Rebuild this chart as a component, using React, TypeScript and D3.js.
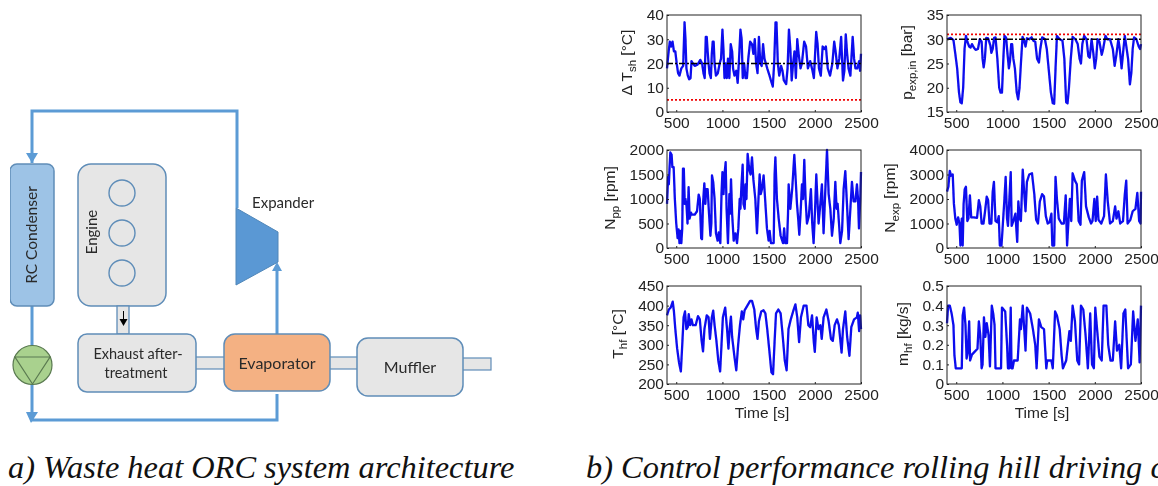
import React, { useEffect, useRef } from "react";
import * as d3 from "d3";

const xTicks = [500, 1000, 1500, 2000, 2500];
const tshTicks = [0, 10, 20, 30, 40];
const pTicks = [15, 20, 25, 30, 35];
const nppTicks = [0, 500, 1000, 1500, 2000];
const nexpTicks = [0, 1000, 2000, 3000, 4000];
const thfTicks = [200, 250, 300, 350, 400, 450];
const mhfTicks = [0, 0.1, 0.2, 0.3, 0.4, 0.5];

const tsh = [[400,18],[415,24],[430,29],[445,27],[460,29],[475,25],[490,25],[505,20],[520,16],[535,15],[555,18],[575,19],[590,37],[600,30],[610,18],[625,15],[640,13.5],[655,14],[665,21],[680,20],[700,19],[730,19.5],[760,21.5],[780,20],[795,16],[808,14],[820,31],[830,31],[840,25],[850,20],[860,16],[875,14],[885,24],[895,29],[905,29],[915,20],[930,15],[950,16],[970,20],[985,22],[1000,34],[1012,25],[1022,14],[1035,20],[1048,14],[1060,22],[1075,14],[1090,28],[1105,25],[1115,18],[1130,15],[1150,17],[1165,12],[1180,22],[1195,34],[1208,30],[1220,14],[1235,20],[1250,14],[1265,14],[1280,22],[1300,29],[1320,28],[1335,24],[1350,30],[1365,20],[1380,16],[1395,31],[1410,20],[1425,19],[1440,28],[1455,22],[1470,20],[1485,18],[1510,15],[1525,13],[1545,10.5],[1560,20],[1575,37],[1585,37],[1600,20],[1615,15],[1635,19],[1650,17],[1665,13],[1690,11.5],[1705,18],[1720,34],[1735,26],[1750,13],[1765,20],[1780,25],[1795,14],[1810,30],[1825,24],[1845,18],[1860,20],[1885,29],[1905,27],[1925,18],[1950,21],[1975,17],[1990,14],[2015,33],[2030,28],[2045,18],[2065,15],[2085,27],[2105,26],[2120,27],[2140,18],[2165,15],[2190,20],[2210,29],[2225,25],[2245,18],[2265,22],[2285,31],[2305,13],[2320,17],[2335,32],[2350,24],[2365,18],[2385,15],[2410,31],[2425,22],[2440,18],[2460,18],[2480,21],[2490,17],[2500,24]];
const pExp = [[400,30],[440,30.3],[470,29.8],[490,27],[510,24],[530,19],[545,17],[560,16.8],[575,20],[590,28],[605,30.7],[620,29.5],[640,28.5],[655,28.3],[670,29],[690,28.3],[710,27.8],[735,28],[755,30],[775,29.5],[785,26],[797,24.2],[810,26],[825,30.3],[845,30.2],[870,28.7],[880,27.2],[895,28],[910,30.3],[925,30.4],[945,26],[965,20],[980,19],[995,19],[1010,26],[1022,30.7],[1040,30.3],[1055,27],[1070,24],[1082,25.5],[1095,29],[1105,29],[1118,26],[1135,24],[1155,19],[1170,17.6],[1185,20],[1200,25],[1218,30.5],[1235,29.7],[1250,28.5],[1265,30.2],[1290,30],[1315,30.4],[1335,29.7],[1355,29.5],[1375,26],[1395,25.2],[1410,28],[1430,30.4],[1460,30],[1480,28],[1500,24],[1525,19],[1545,16.8],[1560,16.7],[1575,24],[1590,30.7],[1620,30],[1650,29.7],[1670,26],[1690,17],[1705,16.8],[1720,20],[1740,26],[1760,30.5],[1790,30],[1815,29],[1835,26],[1850,25],[1865,29],[1885,30.7],[1910,30],[1930,26.5],[1945,26.2],[1955,28],[1965,30],[1985,27],[2000,24],[2015,26],[2030,30],[2050,29.5],[2075,26.8],[2090,28],[2115,30.7],[2135,30],[2165,30],[2195,28],[2215,24.5],[2235,27],[2255,30],[2270,28],[2290,24],[2310,28],[2325,30.7],[2345,28],[2360,26],[2380,20.7],[2395,23],[2410,28],[2425,30.4],[2450,30],[2475,28.5],[2490,28],[2500,29]];
const npp = [[400,900],[412,1450],[420,1300],[428,1650],[436,1950],[450,1900],[458,1650],[472,1650],[485,1000],[500,500],[515,200],[525,380],[535,100],[544,350],[555,100],[565,400],[573,1620],[582,1620],[592,900],[600,1000],[612,850],[622,500],[634,1240],[645,600],[660,720],[670,680],[700,680],[725,750],[743,1090],[755,1000],[770,200],[779,180],[790,900],[804,1320],[815,900],[825,1200],[840,1200],[855,700],[870,250],[880,500],[887,1480],[900,1350],[915,1000],[930,300],[948,150],[960,320],[977,100],[990,1100],[1000,1550],[1012,1100],[1022,1500],[1035,1750],[1045,800],[1060,100],[1075,1100],[1083,700],[1093,1400],[1105,700],[1122,150],[1140,300],[1158,100],[1172,400],[1187,1000],[1195,800],[1205,1250],[1219,1700],[1228,900],[1241,800],[1250,1300],[1260,1000],[1273,1920],[1290,1600],[1305,1500],[1320,1850],[1335,1400],[1356,1000],[1374,300],[1390,1000],[1403,1500],[1415,1100],[1428,1200],[1446,1480],[1462,1000],[1482,400],[1500,150],[1511,350],[1525,100],[1555,100],[1565,1500],[1573,1850],[1590,1000],[1609,600],[1630,250],[1656,100],[1668,400],[1680,100],[1699,100],[1710,700],[1717,1300],[1735,800],[1755,1200],[1765,1500],[1778,1900],[1790,1500],[1807,900],[1820,600],[1832,270],[1848,800],[1861,1300],[1872,1000],[1886,1800],[1900,1000],[1915,500],[1935,650],[1958,1200],[1972,500],[1987,100],[2003,800],[2016,1500],[2028,1000],[2041,500],[2060,900],[2077,1300],[2095,300],[2112,1100],[2132,2000],[2150,1100],[2168,800],[2186,250],[2205,600],[2222,1350],[2236,800],[2247,900],[2262,500],[2276,100],[2295,350],[2312,1200],[2330,1570],[2348,900],[2366,180],[2385,800],[2402,1350],[2420,950],[2440,950],[2456,1300],[2468,1000],[2478,400],[2492,1000],[2500,1550]];
const nexp = [[400,2300],[415,2500],[430,3150],[445,2950],[462,3000],[475,1800],[490,1200],[505,950],[520,1250],[535,1000],[545,100],[560,1200],[570,100],[580,1800],[592,2400],[605,2500],[620,1100],[632,1200],[648,2150],[662,1250],[690,1250],[725,1230],[745,1950],[760,1700],[775,1000],[795,1000],[812,1500],[830,2100],[845,1950],[860,1000],[880,1000],[895,2300],[908,2700],[925,1100],[945,1050],[960,1300],[972,100],[990,100],[1005,1000],[1020,1900],[1035,2900],[1050,1200],[1060,900],[1075,2000],[1090,3100],[1100,900],[1118,1100],[1140,1400],[1160,250],[1172,1900],[1188,1200],[1200,1100],[1220,3200],[1235,2300],[1250,1500],[1265,2700],[1290,3000],[1320,3050],[1345,2200],[1365,1150],[1385,1000],[1405,1900],[1430,2200],[1450,2100],[1470,1300],[1490,1000],[1510,1050],[1530,1400],[1540,100],[1560,100],[1575,2900],[1590,2000],[1610,1200],[1640,1000],[1665,1000],[1685,2150],[1700,100],[1715,1100],[1730,2000],[1745,1100],[1760,3050],[1785,2750],[1805,2600],[1825,1100],[1845,950],[1860,2750],[1885,3100],[1905,1700],[1935,1250],[1960,1000],[1975,1100],[1995,2000],[2010,1100],[2025,2100],[2040,1150],[2070,1000],[2100,1300],[2120,3000],[2140,1900],[2165,1000],[2195,1100],[2220,1700],[2235,1200],[2255,1500],[2275,1000],[2305,1100],[2325,2200],[2340,2750],[2355,1000],[2385,1150],[2410,1500],[2440,1600],[2460,2250],[2480,1100],[2495,1000],[2500,2300]];
const thf = [[400,375],[420,390],[440,395],[462,410],[475,385],[490,340],[510,290],[530,255],[550,232],[565,300],[580,370],[595,385],[610,340],[625,345],[635,378],[650,350],[665,365],[680,350],[710,350],[735,373],[755,365],[775,310],[790,283],[805,340],[830,375],[850,370],[865,315],[885,370],[900,387],[915,350],[935,310],[955,260],[975,232],[990,300],[1005,370],[1030,395],[1050,340],[1065,290],[1080,345],[1092,372],[1105,320],[1130,270],[1150,235],[1170,300],[1190,350],[1210,385],[1225,365],[1240,388],[1270,400],[1300,412],[1320,412],[1345,390],[1365,340],[1380,315],[1395,360],[1420,385],[1445,388],[1465,380],[1485,340],[1510,280],[1530,230],[1548,225],[1565,310],[1580,380],[1605,390],[1630,380],[1650,330],[1675,260],[1695,235],[1715,340],[1740,365],[1765,385],[1790,403],[1810,370],[1830,307],[1850,370],[1880,400],[1910,400],[1930,350],[1950,345],[1970,375],[1990,305],[2000,282],[2020,370],[2040,340],[2060,350],[2075,315],[2095,370],[2125,390],[2150,360],[2175,315],[2195,310],[2215,350],[2240,365],[2260,350],[2290,280],[2305,340],[2330,385],[2350,320],[2375,272],[2395,345],[2425,365],[2455,370],[2465,382],[2480,335],[2490,375],[2500,340]];
const mhf = [[400,0.31],[412,0.4],[430,0.4],[450,0.36],[470,0.3],[480,0.15],[495,0.08],[560,0.08],[570,0.35],[585,0.39],[600,0.3],[612,0.13],[625,0.16],[640,0.32],[650,0.12],[670,0.15],[690,0.16],[730,0.18],[745,0.32],[760,0.25],[775,0.08],[785,0.1],[800,0.34],[815,0.24],[830,0.31],[850,0.25],[865,0.09],[885,0.4],[900,0.36],[915,0.3],[925,0.08],[985,0.08],[995,0.39],[1030,0.37],[1050,0.2],[1060,0.08],[1075,0.08],[1090,0.39],[1098,0.08],[1110,0.08],[1125,0.12],[1165,0.12],[1190,0.33],[1200,0.28],[1220,0.4],[1240,0.25],[1250,0.17],[1265,0.39],[1300,0.36],[1330,0.28],[1355,0.2],[1370,0.08],[1395,0.33],[1420,0.29],[1450,0.28],[1475,0.08],[1485,0.12],[1530,0.12],[1545,0.08],[1570,0.37],[1590,0.35],[1620,0.28],[1640,0.15],[1655,0.08],[1690,0.12],[1725,0.27],[1740,0.22],[1760,0.4],[1785,0.32],[1810,0.12],[1830,0.1],[1850,0.4],[1875,0.38],[1900,0.25],[1925,0.08],[1950,0.36],[1970,0.1],[1990,0.08],[2005,0.39],[2030,0.25],[2050,0.14],[2075,0.12],[2095,0.4],[2125,0.4],[2145,0.2],[2170,0.12],[2195,0.12],[2220,0.32],[2240,0.17],[2265,0.2],[2285,0.08],[2310,0.36],[2330,0.38],[2360,0.08],[2390,0.1],[2415,0.37],[2440,0.22],[2465,0.33],[2485,0.11],[2500,0.4]];

const tshLimit = 5, tshRef = 20, pLimit = 31, pRef = 30;

const SANS = "'Liberation Sans', Arial, sans-serif";
const DIA = "Lato, 'Noto Sans', sans-serif";
const BOX = "#5f8db8";
const FLOW = "#5b9bd5";

type PanelSpec = { left: number; top: number; w: number; h: number; dom: [number, number]; ticks: number[]; data: number[][]; refV?: number; limV?: number; time?: boolean; lx: number; main: string; sub: string; tail: string };

const W = 194;
const panels: PanelSpec[] = [
  { left: 667, top: 15, w: W, h: 97, dom: [0, 40], ticks: tshTicks, data: tsh, refV: tshRef, limV: tshLimit, lx: 632, main: "Δ T", sub: "sh", tail: " [°C]" },
  { left: 947, top: 15, w: W, h: 97, dom: [15, 35], ticks: pTicks, data: pExp, refV: pRef, limV: pLimit, lx: 912, main: "p", sub: "exp,in", tail: " [bar]" },
  { left: 667, top: 150, w: W, h: 98, dom: [0, 2000], ticks: nppTicks, data: npp, lx: 615, main: "N", sub: "pp", tail: " [rpm]" },
  { left: 947, top: 150, w: W, h: 98, dom: [0, 4000], ticks: nexpTicks, data: nexp, lx: 895, main: "N", sub: "exp", tail: " [rpm]" },
  { left: 667, top: 286, w: W, h: 98, dom: [200, 450], ticks: thfTicks, data: thf, time: true, lx: 623, main: "T", sub: "hf", tail: " [°C]" },
  { left: 947, top: 286, w: W, h: 98, dom: [0, 0.5], ticks: mhfTicks, data: mhf, time: true, lx: 908, main: "m", sub: "hf", tail: " [kg/s]" },
];

function Panel({ p }: { p: PanelSpec }) {
  const xRef = useRef<SVGGElement>(null);
  const yRef = useRef<SVGGElement>(null);
  const x = d3.scaleLinear().domain([400, 2500]).range([0, p.w]);
  const y = d3.scaleLinear().domain(p.dom).range([p.h, 0]);
  const line = d3.line<number[]>().x((d) => x(d[0])).y((d) => y(d[1]));
  useEffect(() => {
    const style = (g: any) => {
      g.select(".domain").remove();
      g.selectAll("line").attr("stroke", "#222").attr("stroke-width", 1);
      g.selectAll("text").attr("font-family", SANS).attr("font-size", 15.5).attr("fill", "#222");
    };
    d3.select(xRef.current!).call(d3.axisBottom(x).tickValues(xTicks).tickFormat((d: any) => String(d)).tickSize(-2).tickPadding(5) as any).call(style);
    d3.select(yRef.current!).call(d3.axisLeft(y).tickValues(p.ticks).tickFormat((d: any) => String(d)).tickSize(-2).tickPadding(3) as any).call(style);
  }, []);
  const cy = p.top + p.h / 2 - 1;
  return (
    <g>
      <g transform={`translate(${p.left},${p.top})`}>
        <path d={line(p.data) || ""} fill="none" stroke="#0a0aee" strokeWidth={2.3} strokeLinejoin="round" />
        {p.refV !== undefined && <line x1={0} x2={p.w} y1={y(p.refV)} y2={y(p.refV)} stroke="#000" strokeWidth={1.5} strokeDasharray="6 2 2 2" />}
        {p.limV !== undefined && <line x1={0} x2={p.w} y1={y(p.limV)} y2={y(p.limV)} stroke="#f00000" strokeWidth={1.8} strokeDasharray="2 2" />}
        <rect x={0} y={0} width={p.w} height={p.h} fill="none" stroke="#222" strokeWidth={1} />
        <g ref={xRef} transform={`translate(0,${p.h})`} />
        <g ref={yRef} />
      </g>
      <text transform={`translate(${p.lx},${cy}) rotate(-90)`} textAnchor="middle" fontFamily={SANS} fontSize={15.5} fill="#222">
        {p.main}
        <tspan dy={4} fontSize={11.5}>{p.sub}</tspan>
        <tspan dy={-4}>{p.tail}</tspan>
      </text>
      {p.time && <text x={p.left + 95} y={418} textAnchor="middle" fontFamily={SANS} fontSize={15.5} fill="#222">Time [s]</text>}
    </g>
  );
}

function Diagram() {
  const rr = (x: number, y: number, w: number, h: number, r: number, fill: string) => (
    <rect x={x} y={y} width={w} height={h} rx={r} fill={fill} stroke={BOX} strokeWidth={1.5} />
  );
  const t = (x: number, y: number, s: string, size: number, anchor = "middle", rot = false) => (
    <text transform={rot ? `translate(${x},${y}) rotate(-90)` : undefined} x={rot ? undefined : x} y={rot ? undefined : y} textAnchor={anchor as any} fontFamily={DIA} fontSize={size} fill="#2a2a2a">{s}</text>
  );
  return (
    <g>
      <path d="M32 163 V111 H237 V208" fill="none" stroke={FLOW} strokeWidth={3} />
      <path d="M26 153 H38 L32 163 Z" fill={FLOW} />
      <path d="M32 306 V420 H277 V394" fill="none" stroke={FLOW} strokeWidth={3} />
      <path d="M26 412 H38 L31 423 Z" fill={FLOW} />
      <path d="M277 334 V270" fill="none" stroke={FLOW} strokeWidth={3} />
      <path d="M272 271 H282 L277 262 Z" fill={FLOW} />
      <polygon points="236,208 278,232 278,262 236,285" fill="#5a98d4" stroke="#4f86b8" strokeWidth={1} />
      {rr(10, 164, 44, 142, 7, "#9dc3e6")}
      {rr(78, 164, 88, 142, 13, "#e6e6e6")}
      {[193, 233, 273].map((c) => <circle key={c} cx={122} cy={c} r={13} fill="none" stroke={BOX} strokeWidth={1.4} />)}
      <rect x={117} y={306} width={12} height={28} fill="#e6e6e6" stroke={BOX} strokeWidth={1.3} />
      <path d="M123.5 311 V321" stroke="#000" strokeWidth={1} />
      <path d="M119.5 319 H127.5 L123.5 326 Z" fill="#000" />
      <rect x={195} y={357} width={30} height={12} fill="#e6e6e6" stroke={BOX} strokeWidth={1.2} />
      <rect x={329} y={357} width={29} height={12} fill="#e6e6e6" stroke={BOX} strokeWidth={1.2} />
      <rect x={462} y={358} width={29} height={12} fill="#e6e6e6" stroke={BOX} strokeWidth={1.2} />
      {rr(78, 334, 118, 58, 9, "#e6e6e6")}
      {rr(224, 334, 106, 57, 11, "#f4b183")}
      {rr(357, 338, 106, 58, 11, "#e6e6e6")}
      <circle cx={32.5} cy={365} r={19.5} fill="#a9d18e" stroke="#5a7a50" strokeWidth={1.2} />
      <path d="M15 357 H50 L32.5 384 Z" fill="none" stroke="#5a7a50" strokeWidth={1.2} />
      {t(37, 235, "RC Condenser", 15.5, "middle", true)}
      {t(97, 232, "Engine", 15, "middle", true)}
      {t(138, 359, "Exhaust after-", 14.5)}
      {t(136, 378, "treatment", 14.5)}
      {t(277, 369, "Evaporator", 16)}
      {t(410, 373, "Muffler", 16)}
      {t(252, 208, "Expander", 15, "start")}
    </g>
  );
}

export default function App() {
  return (
    <svg width={1158} height={486} style={{ position: "absolute", left: 0, top: 0, background: "#fff" }}>
      <defs>
        <filter id="soft" x="0" y="0" width="100%" height="100%">
          <feGaussianBlur stdDeviation={0.4} />
        </filter>
      </defs>
      <g filter="url(#soft)">
        <Diagram />
        {panels.map((p, i) => <Panel key={i} p={p} />)}
      </g>
      <text x={8} y={478} fontFamily="'Liberation Serif', serif" fontStyle="italic" fontSize={32.4} fill="#111">a) Waste heat ORC system architecture</text>
      <text x={586} y={478} fontFamily="'Liberation Serif', serif" fontStyle="italic" fontSize={32.4} fill="#111">b) Control performance rolling hill driving cycle</text>
    </svg>
  );
}
